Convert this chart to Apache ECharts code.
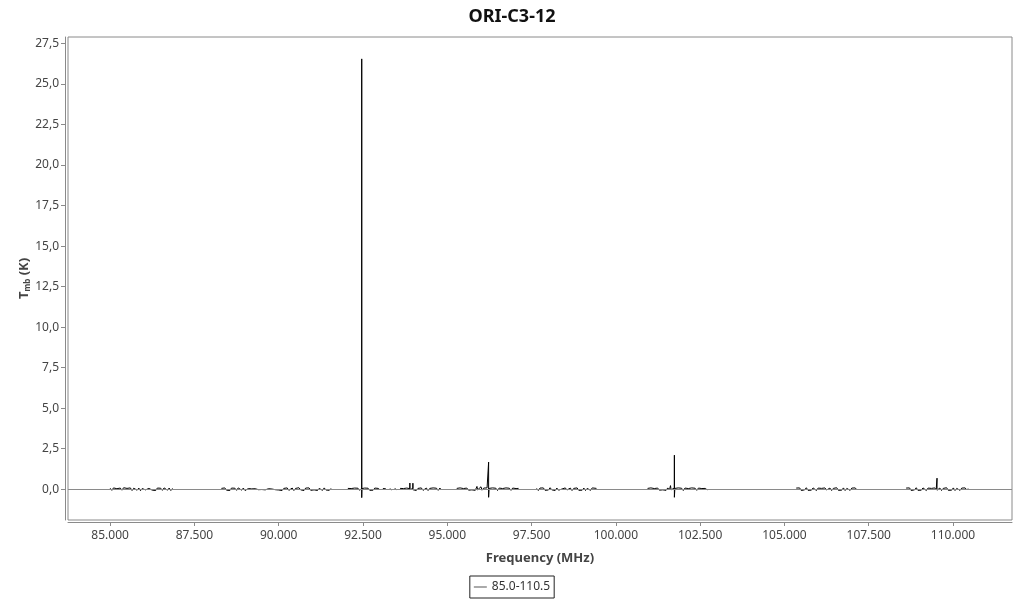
<!DOCTYPE html>
<html>
<head>
<meta charset="utf-8">
<script src="https://cdn.jsdelivr.net/npm/echarts@6/dist/echarts.min.js"></script>
<style>
html,body{margin:0;padding:0;background:#fff;}
#chart{width:1024px;height:600px;}
</style>
</head>
<body>
<div id="chart"></div>
<script>
const chartTitle = 'ORI-C3-12';
const seriesName = '85.0-110.5';
const xTicks = [85000, 87500, 90000, 92500, 95000, 97500, 100000, 102500, 105000, 107500, 110000];
const yTicks = [0, 2.5, 5, 7.5, 10, 12.5, 15, 17.5, 20, 22.5, 25, 27.5];

// spectral chunks: [frequency MHz, Tmb K]
const chunk1 = [[85000,0.06],[85050,-0.07],[85100,0.08],[85150,-0.04],[85200,0.03],[85250,-0.08],[85300,0.07],[85350,-0.06],[85400,0.09],[85450,-0.03],[85500,0.05],[85550,-0.07],[85600,0.08],[85650,-0.08],[85700,0.06],[85750,0.01],[85800,-0.06],[85850,0.07],[85900,-0.09],[85950,0.04],[86000,0.08],[86050,-0.04],[86100,-0.07],[86150,0.05],[86200,0.09],[86250,-0.06],[86300,0.03],[86350,-0.08],[86400,0.07],[86450,-0.05],[86500,0.06],[86550,-0.07],[86600,0.08],[86650,0.02],[86700,-0.06],[86750,0.07],[86800,-0.08],[86850,0.05]];
const chunk2 = [[88300,0.05],[88350,-0.07],[88400,0.08],[88450,-0.06],[88500,0.03],[88550,-0.08],[88600,0.07],[88650,-0.04],[88700,0.06],[88750,-0.07],[88800,0.08],[88850,0.01],[88900,-0.06],[88950,0.07],[89000,-0.08],[89050,0.04],[89100,0.04],[89150,-0.03],[89200,0.02],[89250,-0.04],[89300,0.03],[89350,0.00],[89400,-0.03],[89450,0.04],[89500,-0.02],[89550,0.03],[89600,-0.04],[89650,0.02],[89700,0.03],[89750,-0.03],[89800,0.01],[89850,0.04],[89900,-0.03],[89950,0.02],[90000,-0.05],[90050,0.07],[90100,-0.08],[90150,0.05],[90200,-0.04],[90250,0.08],[90300,-0.07],[90350,0.04],[90400,0.07],[90450,-0.08],[90500,0.05],[90550,-0.06],[90600,0.09],[90650,-0.04],[90700,0.03],[90750,-0.08],[90800,0.07],[90850,-0.05],[90900,0.08],[90950,-0.07],[91000,0.04],[91050,-0.04],[91100,0.08],[91150,-0.08],[91200,0.05],[91250,0.02],[91300,-0.07],[91350,0.08],[91400,-0.05],[91450,0.04],[91500,-0.07],[91550,0.05]];
const chunk3 = [[92050,0.05],[92100,-0.07],[92150,0.04],[92200,-0.06],[92250,0.07],[92300,-0.04],[92350,0.06],[92400,-0.07],[92430,0.04],[92462,0.06],[92462,26.55],[92462,-0.52],[92468,0.04],[92500,-0.06],[92550,0.07],[92600,-0.04],[92650,0.06],[92700,-0.07],[92750,0.04],[92800,-0.06],[92850,0.07],[92900,-0.04],[92950,0.05],[93000,-0.03]];
const dash1 = [[93090,0.04],[93130,-0.04],[93175,0.03]];
const dash2 = [[93295,0.03],[93350,-0.04]];
const dash3 = [[93440,0.04],[93500,-0.03]];
const chunk4 = [[93600,0.05],[93650,-0.07],[93700,0.04],[93750,-0.06],[93800,0.07],[93850,-0.04],[93890,0.03],[93890,0.38],[93890,-0.02],[93930,-0.05],[93980,0.04],[93980,0.37],[93980,-0.03],[94030,0.07],[94080,-0.08],[94130,0.05],[94180,-0.04],[94230,0.08],[94280,-0.07],[94330,0.04],[94380,0.07],[94430,-0.08],[94480,0.05],[94530,-0.06],[94580,0.08],[94630,-0.04],[94680,0.06],[94730,-0.07],[94780,0.07],[94830,-0.04]];
const chunk5 = [[95280,0.05],[95330,-0.07],[95380,0.08],[95430,-0.04],[95480,0.04],[95530,-0.08],[95580,0.07],[95630,-0.06],[95680,0.05],[95730,-0.04],[95780,0.07],[95830,-0.07],[95880,0.17],[95900,-0.04],[95950,0.06],[96000,0.15],[96030,-0.06],[96080,0.07],[96130,-0.05],[96180,0.08],[96226,0.1],[96226,1.67],[96226,-0.5],[96240,0.05],[96290,-0.07],[96340,0.08],[96390,-0.04],[96440,0.06],[96490,-0.08],[96540,0.07],[96590,-0.05],[96640,0.04],[96690,-0.07],[96740,0.08],[96790,-0.04],[96840,0.06],[96890,-0.07],[96940,0.07],[96990,-0.05],[97040,0.04],[97090,-0.07],[97115,0.05]];
const chunk6 = [[97650,0.05],[97700,-0.08],[97750,0.07],[97800,-0.04],[97850,0.08],[97900,-0.07],[97950,0.04],[98000,-0.05],[98050,0.09],[98100,-0.04],[98150,0.03],[98200,-0.08],[98250,0.07],[98300,-0.06],[98350,0.05],[98400,0.01],[98450,-0.07],[98500,0.08],[98550,-0.05],[98600,0.04],[98650,0.07],[98700,-0.08],[98750,0.05],[98800,-0.04],[98850,0.08],[98900,-0.07],[98950,0.03],[99000,-0.06],[99050,0.07],[99100,-0.08],[99150,0.05],[99200,0.04],[99250,-0.07],[99300,0.08],[99350,-0.04],[99425,0.05]];
const chunk7 = [[100940,0.05],[100990,-0.07],[101040,0.08],[101090,-0.04],[101140,0.04],[101190,-0.08],[101240,0.07],[101290,-0.06],[101340,0.05],[101390,-0.04],[101440,0.07],[101490,-0.07],[101540,0.08],[101590,-0.05],[101620,0.22],[101640,-0.04],[101690,0.07],[101736,0.08],[101736,2.1],[101736,-0.5],[101750,0.05],[101800,-0.07],[101850,0.08],[101900,-0.04],[101950,0.06],[102000,-0.08],[102050,0.07],[102100,-0.05],[102150,0.04],[102200,-0.07],[102250,0.08],[102300,-0.04],[102350,0.06],[102400,-0.07],[102450,0.07],[102500,-0.05],[102550,0.04],[102600,-0.07],[102650,0.05],[102710,-0.04]];
const chunk8 = [[105350,0.07],[105400,-0.05],[105450,0.08],[105500,-0.08],[105550,0.04],[105600,-0.04],[105650,0.09],[105700,-0.07],[105750,0.05],[105800,-0.06],[105850,0.08],[105900,0.01],[105950,-0.08],[106000,0.07],[106050,-0.04],[106100,0.05],[106150,-0.07],[106200,0.08],[106250,-0.05],[106300,0.04],[106350,0.07],[106400,-0.08],[106450,0.05],[106500,-0.04],[106550,0.09],[106600,-0.07],[106650,0.03],[106700,-0.06],[106750,0.08],[106800,-0.08],[106850,0.05],[106900,0.04],[106950,-0.07],[107000,0.07],[107050,-0.04],[107100,0.08],[107155,-0.05]];
const chunk9 = [[108610,0.07],[108660,-0.05],[108710,0.08],[108760,-0.08],[108810,0.04],[108860,-0.04],[108910,0.09],[108960,-0.07],[109010,0.05],[109060,-0.06],[109110,0.08],[109160,0.01],[109210,-0.08],[109260,0.07],[109310,-0.04],[109360,0.05],[109410,-0.07],[109460,0.08],[109500,-0.05],[109526,0.05],[109526,0.68],[109526,-0.06],[109560,0.04],[109610,0.07],[109660,-0.08],[109710,0.05],[109760,-0.04],[109810,0.09],[109860,-0.07],[109910,0.03],[109960,-0.06],[110010,0.08],[110060,-0.08],[110110,0.05],[110160,0.04],[110210,-0.07],[110260,0.07],[110310,-0.04],[110360,0.08],[110410,-0.05],[110445,0.04]];
const segments = [chunk1, chunk2, chunk3, dash1, dash2, dash3, chunk4, chunk5, chunk6, chunk7, chunk8, chunk9];

const FONT = 'Noto Sans';
const chart = echarts.init(document.getElementById('chart'), null, {renderer: 'canvas'});

const series = [{
  name: 'zero',
  type: 'line',
  data: [],
  z: 1,
  silent: true,
  markLine: {
    silent: true,
    symbol: ['none', 'none'],
    label: {show: false},
    lineStyle: {color: '#8a8a8a', width: 1, type: 'solid'},
    emphasis: {disabled: true},
    data: [{yAxis: 0}]
  }
}];
segments.forEach(seg => {
  series.push({
    name: seriesName,
    type: 'line',
    data: seg,
    z: 3,
    symbol: 'none',
    showSymbol: false,
    animation: false,
    lineStyle: {color: '#000', width: 1, join: 'bevel'},
    itemStyle: {color: '#000'},
    emphasis: {disabled: true}
  });
});

chart.setOption({
  animation: false,
  backgroundColor: '#fff',
  textStyle: {fontFamily: FONT},
  title: {
    text: chartTitle,
    left: 'center',
    top: 3,
    textStyle: {fontFamily: FONT, fontSize: 18, fontWeight: 'bold', color: '#111'}
  },
  legend: {
    data: [seriesName],
    bottom: 2,
    left: 'center',
    borderColor: '#222',
    borderWidth: 1,
    padding: [5, 4, 5, 4],
    icon: 'rect',
    itemWidth: 13,
    itemHeight: 1,
    itemGap: 4,
    itemStyle: {color: '#555'},
    textStyle: {fontFamily: FONT, fontSize: 12, color: '#333'},
    selectedMode: false
  },
  grid: {
    left: 68, right: 12, top: 37, bottom: 80,
    show: true,
    borderColor: '#8a8a8a',
    borderWidth: 1,
    backgroundColor: 'transparent'
  },
  xAxis: {
    type: 'value',
    min: 83750,
    max: 111750,
    offset: 2,
    name: 'Frequency (MHz)',
    nameLocation: 'middle',
    nameGap: 30,
    nameTextStyle: {fontFamily: FONT, fontSize: 13, fontWeight: 'bold', color: '#444'},
    axisLine: {show: true, onZero: false, lineStyle: {color: '#8a8a8a', width: 1}},
    axisTick: {show: true, length: 4, lineStyle: {color: '#8a8a8a'}, customValues: xTicks},
    axisLabel: {
      customValues: xTicks,
      color: '#444', fontSize: 12, fontFamily: FONT, margin: 8,
      formatter: v => (v / 1000).toFixed(3)
    },
    splitLine: {show: false}
  },
  yAxis: {
    type: 'value',
    min: -1.9,
    max: 27.9,
    offset: 3,
    name: '{t|T}{s|mb}{t| (K)}',
    nameLocation: 'middle',
    nameGap: 33,
    nameMoveOverlap: false,
    nameTextStyle: {
      fontFamily: FONT, color: '#444',
      rich: {
        t: {fontFamily: FONT, fontSize: 13, fontWeight: 'bold', color: '#444'},
        s: {fontFamily: FONT, fontSize: 8, fontWeight: 'bold', color: '#444', verticalAlign: 'bottom', padding: [8, 0, 0, 0]}
      }
    },
    axisLine: {show: true, onZero: false, lineStyle: {color: '#8a8a8a', width: 1}},
    axisTick: {show: true, length: 4, lineStyle: {color: '#8a8a8a'}, customValues: yTicks},
    axisLabel: {
      customValues: yTicks,
      color: '#444', fontSize: 12, fontFamily: FONT, margin: 6,
      formatter: v => v.toFixed(1).replace('.', ',')
    },
    splitLine: {show: false}
  },
  series: series
});
</script>
</body>
</html>
